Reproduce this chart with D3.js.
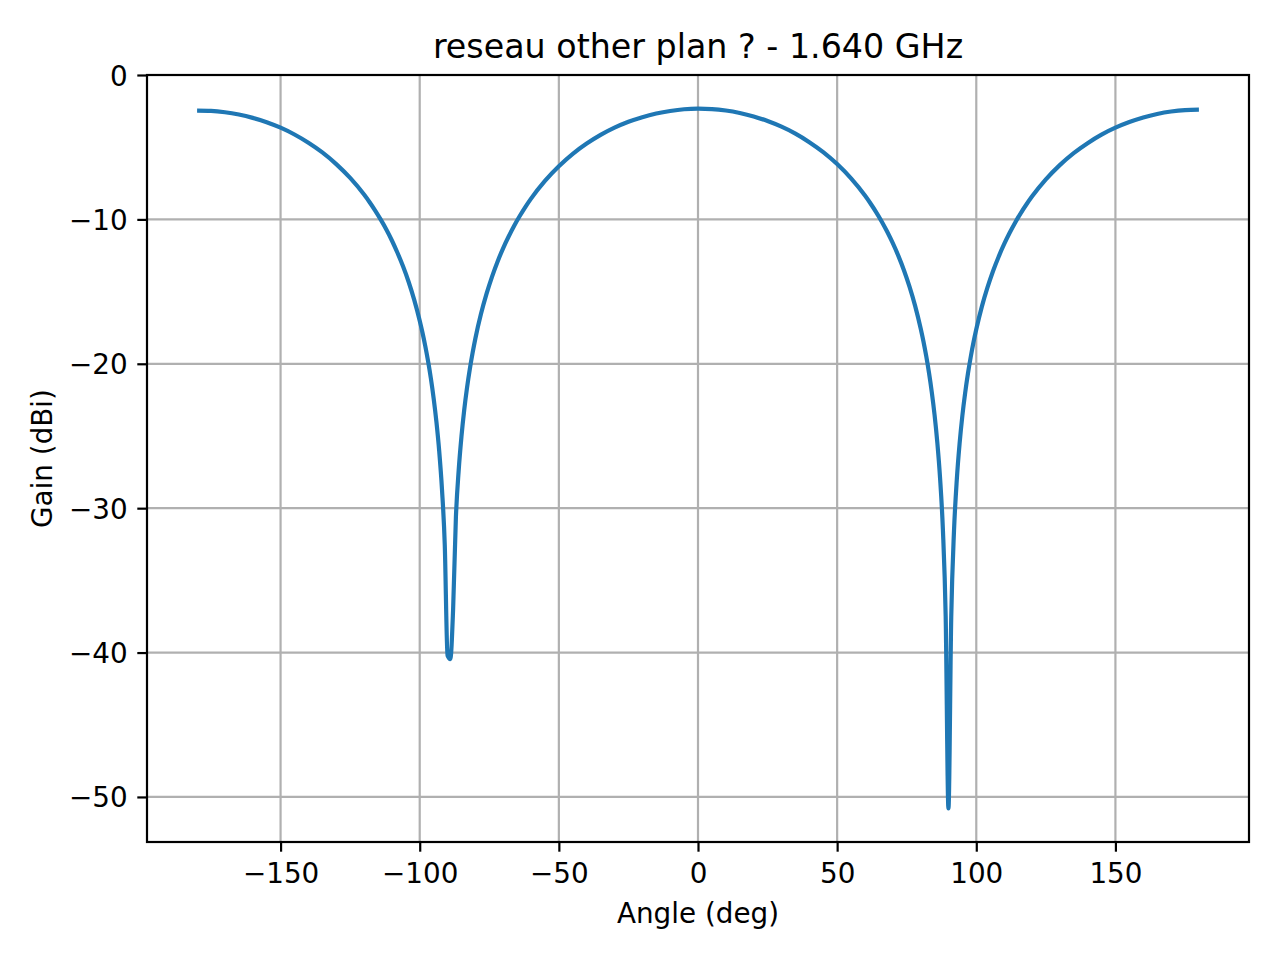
<!DOCTYPE html>
<html>
<head>
<meta charset="utf-8">
<script src="https://cdn.jsdelivr.net/npm/d3@7"></script>
<style>
  html, body { margin: 0; padding: 0; background: #ffffff; }
  svg { display: block; }
  text { font-family: "DejaVu Sans", sans-serif; fill: #000; }
</style>
</head>
<body>
<svg id="chart" width="1280" height="960"></svg>
<script>
const titleText = "reseau other plan ? - 1.640 GHz";
const xLabelText = "Angle (deg)";
const yLabelText = "Gain (dBi)";

const xTicks = [-150, -100, -50, 0, 50, 100, 150];
const yTicks = [0, -10, -20, -30, -40, -50];

const angles = [
  -180, -175, -170, -165, -160, -155, -150, -145, -140, -135, -130, -125, -120,
  -118, -116, -114, -112, -110, -108, -106, -104, -102,
  -100, -99, -98, -97, -96, -95, -94, -93, -92, -91, -90, -89, -88, -87, -86, -85,
  -84, -83, -82, -81, -80,
  -78, -76, -74, -72, -70, -68, -66, -64, -62, -60,
  -55, -50, -45, -40, -35, -30, -25, -20, -15, -10, -5, 0,
  5, 10, 15, 20, 25, 30, 35, 40, 45, 50, 55, 60,
  62, 64, 66, 68, 70, 72, 74, 76, 78,
  80, 81, 82, 83, 84, 85, 86, 87, 88, 89, 90, 91, 92, 93, 94, 95, 96, 97, 98, 99, 100,
  102, 104, 106, 108, 110, 112, 114, 116, 118,
  120, 125, 130, 135, 140, 145, 150, 155, 160, 165, 170, 175, 180
];

const gains = [
  -2.47, -2.49, -2.58, -2.74, -2.97, -3.27, -3.65, -4.12, -4.69, -5.36, -6.17, -7.13, -8.28,
  -8.81, -9.39, -10.02, -10.70, -11.46, -12.31, -13.25, -14.32, -15.56,
  -17.02, -17.85, -18.78, -19.82, -21.00, -22.38, -24.02, -26.04, -28.69, -32.53, -40.20, -40.45, -37.00, -30.65, -27.39, -25.04,
  -23.18, -21.66, -20.37, -19.25, -18.25,
  -16.56, -15.16, -13.96, -12.91, -11.99, -11.17, -10.42, -9.75, -9.13, -8.56,
  -7.33, -6.32, -5.46, -4.75, -4.15, -3.65, -3.24, -2.92, -2.67, -2.49, -2.37, -2.33,
  -2.36, -2.46, -2.63, -2.87, -3.19, -3.58, -4.06, -4.65, -5.34, -6.17, -7.16, -8.35,
  -8.90, -9.49, -10.14, -10.86, -11.65, -12.53, -13.52, -14.66, -15.97,
  -17.54, -18.44, -19.46, -20.61, -21.95, -23.52, -25.46, -27.95, -31.47, -37.49, -50.80, -37.56, -31.54, -28.02, -25.53, -23.59, -22.02, -20.68, -19.53, -18.51, -17.61,
  -16.04, -14.73, -13.59, -12.60, -11.72, -10.93, -10.21, -9.56, -8.97,
  -8.42, -7.23, -6.24, -5.41, -4.72, -4.13, -3.65, -3.26, -2.94, -2.70, -2.53, -2.43, -2.40
];

const data = angles.map((a, i) => ({ a: a, g: gains[i] }));

const pLeft = 147, pRight = 1249, pTop = 75, pBottom = 842;
const svg = d3.select("#chart");
svg.append("rect").attr("width", 1280).attr("height", 960).attr("fill", "#ffffff");

const x = d3.scaleLinear().domain([-198, 198]).range([pLeft, pRight]);
const y = d3.scaleLinear().domain([-53.12, 0.0]).range([pBottom, pTop]);

const fs = 27.8;
const tickLen = 9.7;
const lw = 2.2;

// grid
const grid = svg.append("g");
grid.selectAll(".gx").data(xTicks).enter().append("line")
  .attr("x1", d => x(d)).attr("x2", d => x(d))
  .attr("y1", pTop).attr("y2", pBottom)
  .attr("stroke", "#b0b0b0").attr("stroke-width", lw);
grid.selectAll(".gy").data(yTicks).enter().append("line")
  .attr("x1", pLeft).attr("x2", pRight)
  .attr("y1", d => y(d)).attr("y2", d => y(d))
  .attr("stroke", "#b0b0b0").attr("stroke-width", lw);

// data line
const line = d3.line().x(d => x(d.a)).y(d => y(d.g)).curve(d3.curveMonotoneX);
svg.append("path").datum(data)
  .attr("d", line)
  .attr("fill", "none")
  .attr("stroke", "#1f77b4")
  .attr("stroke-width", 4.2)
  .attr("stroke-linejoin", "round")
  .attr("stroke-linecap", "butt");

// axes via d3 axis generators
const fmt = d => (d < 0 ? "\u2212" + Math.abs(d) : String(d));
const xAxis = svg.append("g").attr("transform", `translate(0,${pBottom})`)
  .call(d3.axisBottom(x).tickValues(xTicks).tickFormat(fmt).tickSize(tickLen).tickPadding(9.7));
const yAxis = svg.append("g").attr("transform", `translate(${pLeft},0)`)
  .call(d3.axisLeft(y).tickValues(yTicks).tickFormat(fmt).tickSize(tickLen).tickPadding(9.7));

[xAxis, yAxis].forEach(g => {
  g.select(".domain").remove();
  g.selectAll(".tick line").attr("stroke", "#000").attr("stroke-width", lw);
  g.selectAll(".tick text")
    .attr("fill", "#000")
    .style("font-family", "'DejaVu Sans', sans-serif")
    .style("font-size", fs + "px");
});
xAxis.selectAll(".tick text").attr("dy", null).attr("y", tickLen + 10.5).attr("dominant-baseline", "hanging");
yAxis.selectAll(".tick text").attr("dy", "0.36em");

// spines
svg.append("rect")
  .attr("x", pLeft).attr("y", pTop)
  .attr("width", pRight - pLeft).attr("height", pBottom - pTop)
  .attr("fill", "none").attr("stroke", "#000").attr("stroke-width", lw);

// title
svg.append("text")
  .attr("x", (pLeft + pRight) / 2).attr("y", 58)
  .attr("text-anchor", "middle")
  .style("font-size", "33.3px")
  .text(titleText);

// x label
svg.append("text")
  .attr("x", (pLeft + pRight) / 2).attr("y", 923)
  .attr("text-anchor", "middle")
  .style("font-size", fs + "px")
  .text(xLabelText);

// y label
svg.append("text")
  .attr("transform", `translate(52,${(pTop + pBottom) / 2}) rotate(-90)`)
  .attr("text-anchor", "middle")
  .style("font-size", fs + "px")
  .text(yLabelText);
</script>
</body>
</html>
